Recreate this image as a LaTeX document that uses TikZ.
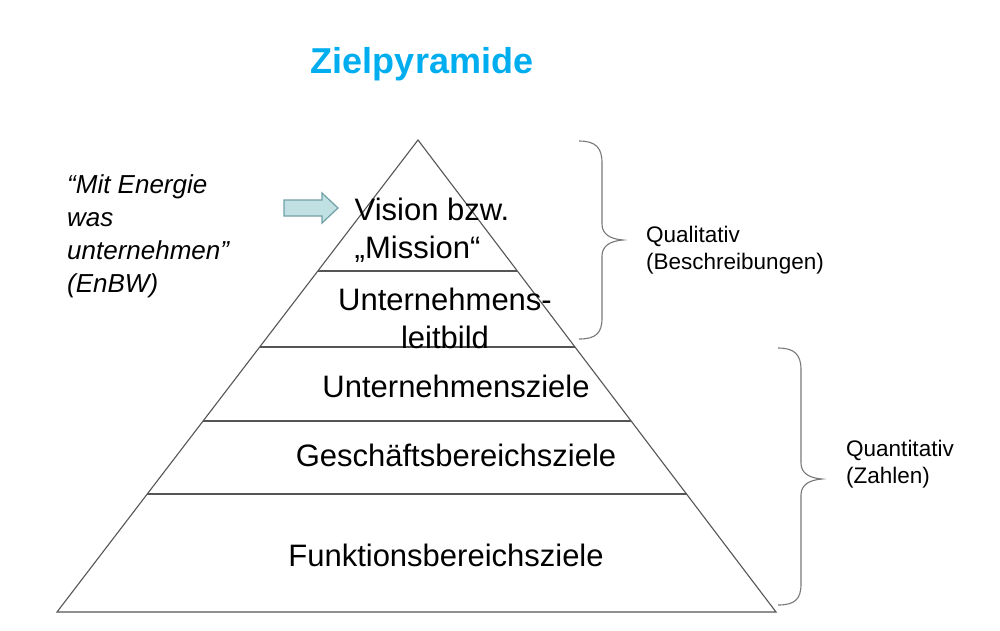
\documentclass[tikz,border=0pt]{standalone}
\usepackage{fontspec}
\setmainfont{Liberation Sans}
\usetikzlibrary{calc}
\definecolor{titleblue}{RGB}{0,174,239}
\definecolor{pyrline}{RGB}{85,85,85}
\definecolor{braceline}{RGB}{120,120,120}
\definecolor{arrowfill}{RGB}{192,224,228}
\definecolor{arrowedge}{RGB}{112,160,166}
\begin{document}
\begin{tikzpicture}[x=1pt,y=-1pt,
  pyr/.style={draw=pyrline,line width=1.1pt,line join=miter},
  sep/.style={draw=pyrline,line width=1.3pt},
  bracepath/.style={draw=braceline,line width=1.1pt},
  level/.style={font=\fontsize{31}{38}\selectfont,align=center,inner sep=0pt},
  side/.style={font=\fontsize{22.5}{26.5}\selectfont,align=left,anchor=west,inner sep=0pt},
  quote/.style={font=\fontsize{26}{33}\selectfont\itshape,align=left,anchor=west,inner sep=0pt}]
\useasboundingbox (0,0) rectangle (1000,630);
\fill[white] (0,0) rectangle (1000,630);

% title
\node[font=\fontsize{36}{40}\selectfont\bfseries,text=titleblue,inner sep=0pt] (title) at (422,64) {Zielpyramide};

% pyramid outline
\coordinate (apex) at (418,140);
\coordinate (bl) at (57,612);
\coordinate (br) at (776,612);
\path[pyr] (apex) -- (bl) -- (br) -- cycle;

% level separators
\foreach \t/\n in {0.2775/a,0.4386/b,0.5953/c,0.75/d}{
  \coordinate (l\n) at ($(apex)!\t!(bl)$);
  \coordinate (r\n) at ($(apex)!\t!(br)$);
  \path[sep] (l\n) -- (r\n);
}

% level labels
\node[level,align=left] (vision) at (432,230) {Vision bzw.\\„Mission“};
\node[level] (leitbild) at (445,318) {Unternehmens-\\leitbild};
\node[level] (uziele) at (456,386) {Unternehmensziele};
\node[level] (gziele) at (456,455) {Geschäftsbereichsziele};
\node[level] (fziele) at (446,555) {Funktionsbereichsziele};

% slogan with pointer
\node[quote] (slogan) at (67,236) {“Mit Energie\\was\\unternehmen”\\(EnBW)};
\path[fill=arrowfill,draw=arrowedge,line width=1.2pt,line join=miter]
  (284,200) -- (322,200) -- (322,193) -- (338,208) -- (322,223) -- (322,216) -- (284,216) -- cycle;

% upper brace: qualitative goals
\path[bracepath] (579,141) .. controls (596,141) and (602,148) .. (602,163)
  -- (602,224) .. controls (602,234) and (610,239) .. (623,240)
  .. controls (610,241) and (602,246) .. (602,256)
  -- (602,318) .. controls (602,333) and (596,339) .. (579,339);
\node[side] (quali) at (646,250) {Qualitativ\\(Beschreibungen)};

% lower brace: quantitative goals
\path[bracepath] (778,348) .. controls (795,348) and (801,355) .. (801,370)
  -- (801,463) .. controls (801,473) and (809,478) .. (822,479)
  .. controls (809,480) and (801,485) .. (801,495)
  -- (801,584) .. controls (801,599) and (795,605) .. (778,605);
\node[side] (quanti) at (846,464) {Quantitativ\\(Zahlen)};
\end{tikzpicture}
\end{document}
